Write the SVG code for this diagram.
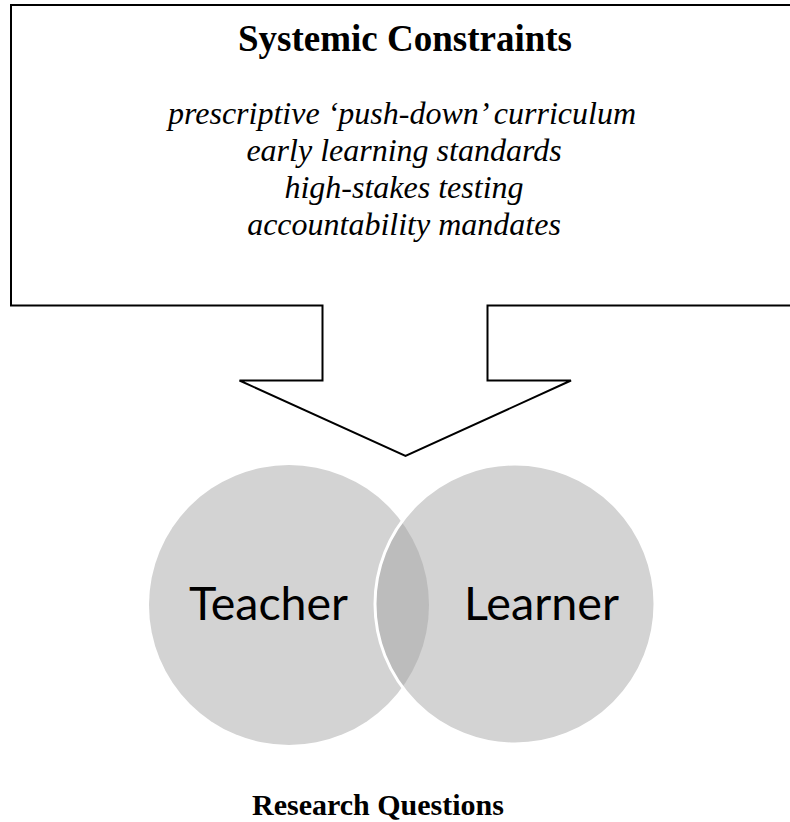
<svg xmlns="http://www.w3.org/2000/svg" width="790" height="822" viewBox="0 0 790 822">
  <style>
    .serif { font-family: "Liberation Serif", "Times New Roman", serif; fill: #000; text-anchor: middle; }
    .title { font-size: 37px; font-weight: bold; }
    .item { font-size: 32px; font-style: italic; }
    .caption { font-size: 30px; font-weight: bold; }
    .label { font-family: Lato, "Open Sans", sans-serif; font-size: 46px; fill: #000; text-anchor: middle; }
    .shape { fill: #fff; stroke: #000; stroke-width: 2; stroke-linejoin: miter; }
    .set { fill: #d3d3d3; }
  </style>
  <defs>
    <clipPath id="teacherClip">
      <circle cx="289" cy="605" r="140"/>
    </clipPath>
  </defs>

  <!-- callout box with downward arrow -->
  <g id="constraints">
    <path class="shape" d="M11,5 H800 V305.5 H487.5 V380.5 H571 L405.5,456 L239.5,380.5 H322.5 V305.5 H11 Z"/>
    <text class="serif title" x="405" y="51">Systemic Constraints</text>
    <text class="serif item" x="402" y="124">prescriptive ‘push-down’ curriculum</text>
    <text class="serif item" x="404" y="161">early learning standards</text>
    <text class="serif item" x="404" y="198">high-stakes testing</text>
    <text class="serif item" x="404" y="235">accountability mandates</text>
  </g>

  <!-- overlapping sets -->
  <g id="teacher">
    <circle class="set" cx="289" cy="605" r="140"/>
  </g>
  <g id="learner">
    <circle class="set" cx="515" cy="604" r="140"/>
    <circle cx="515" cy="604" r="140" fill="#bcbcbc" clip-path="url(#teacherClip)"/>
    <circle cx="515" cy="604" r="140" fill="none" stroke="#fff" stroke-width="3"/>
  </g>
  <text class="label" x="268.5" y="620" textLength="159" lengthAdjust="spacingAndGlyphs">Teacher</text>
  <text class="label" x="541.5" y="620" textLength="155" lengthAdjust="spacingAndGlyphs">Learner</text>

  <g id="research-questions">
    <text class="serif caption" x="378" y="815">Research Questions</text>
  </g>
</svg>
